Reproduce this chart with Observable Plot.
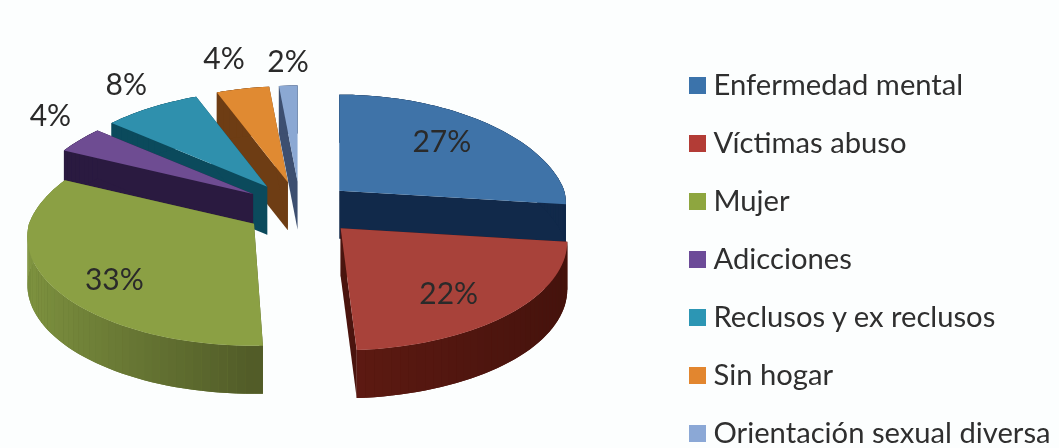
<!DOCTYPE html>
<html><head><meta charset="utf-8">
<script src="https://cdn.jsdelivr.net/npm/d3@7"></script>
<script src="https://cdn.jsdelivr.net/npm/@observablehq/plot@0.6"></script>
<style>
html,body{margin:0;padding:0;background:#fcfefe;overflow:hidden}
svg{display:block;filter:blur(0.5px)}
</style></head><body><div id="chart"></div>
<script>
// data
const categories = ["Enfermedad mental","Víctimas abuso","Mujer","Adicciones","Reclusos y ex reclusos","Sin hogar","Orientación sexual diversa"];
const values = [27,22,33,4,8,4,2];
const topColors = ["#3f73a8","#a8423a","#8ba044","#6e4c92","#2f90ad","#e08a32","#8ba8d3"];
const cutColors = ["#11294a","#4a140e","#515b28","#2a1a40","#0b4a5c","#6e3d14","#3d4f70"];
const rimNear = ["#11294a","#5e1a12","#515b28","#2a1a40","#0b4a5c","#6e3d14","#3d4f70"];
const rimFar = ["#11294a","#43120c","#7f9440","#2a1a40","#0b4a5c","#6e3d14","#3d4f70"];
const legendColors = ["#3b73ab","#b33c36","#8ea63f","#6c4b98","#2c96b4","#e2862f","#8ba8d6"];

// layout of the pseudo-3D pie
const W = 1059, H = 448;
const cx = 299, cy = 208, kx = 55, ky = 27;
const R = 225, Ry = 107.5, persp = 0.12, perspBackX = 0.18, depth = 48;
const labelReach = [[.68,.74],[.64,.77],[.70,.88],[1.17,1.44],[1.22,1.28],[1.34,1.32],[.79,1.24]];
const apexNudge = [-1.5,3.5,0,0,0,2,1.5];
const startNudge = [0,0,1.6,0,0,0,1.6];
const endNudge = [0,0,0,0,0,1.6,0];
const paintOrder = [6,5,4,3,0,2,1];
const rad = d => d * Math.PI / 180;

const slices = [];
let acc = 0;
values.forEach((v,i) => {
  const a0 = acc * 3.6 + startNudge[i], a1 = (acc + v) * 3.6 + endNudge[i], mid = (acc + v/2) * 3.6;
  acc += v;
  slices[i] = {i, a0, a1, mid, ax: cx + kx*Math.sin(rad(mid)) + apexNudge[i], ay: cy - ky*Math.cos(rad(mid))};
});
function project(s, rx, t, ry = rx) {
  const c = Math.cos(rad(t));
  const fx = c > 0 ? 1/(1 + perspBackX*c) : 1/(1 + persp*c);
  const fy = 1/(1 + persp*c);
  return [s.ax + R*rx*Math.sin(rad(t))*fx, s.ay - Ry*ry*c*fy];
}
const polys = [];
function addPoly(id, color, pts) {
  pts.forEach(p => polys.push({id, color, x:p[0], y:p[1]}));
}
paintOrder.forEach(i => {
  const s = slices[i];
  const apex = project(s,0,0);
  const down = p => [p[0], p[1]+depth];
  const arc = [];
  const n = Math.max(2, Math.ceil((s.a1-s.a0)/2));
  for (let k=0;k<=n;k++) arc.push(s.a0 + (s.a1-s.a0)*k/n);
  const rim = arc.map(t => project(s,1,t));
  addPoly(`c0-${i}`, cutColors[i], [apex, rim[0], down(rim[0]), down(apex)]);
  addPoly(`c1-${i}`, cutColors[i], [apex, rim[n], down(rim[n]), down(apex)]);
  const mix = d3.interpolateRgb(rimNear[i], rimFar[i]);
  // solid underlay keeps the seams between shaded rim pieces closed
  addPoly(`u-${i}`, mix(0.5), [...rim, ...rim.slice().reverse().map(down)]);
  for (let k=0;k<n;k++) {
    const u = Math.abs(Math.sin(rad((arc[k]+arc[k+1])/2)));
    addPoly(`r${k}-${i}`, mix(u), [rim[k], rim[k+1], down(rim[k+1]), down(rim[k])]);
  }
  addPoly(`t-${i}`, topColors[i], [apex, ...rim]);
});
const pctLabels = slices.map(s => {
  const [rx,ry] = labelReach[s.i];
  const [x,y] = project(s, rx, s.mid, ry);
  return {text: values[s.i]+"%", x, y};
});
const legend = categories.map((name,i) => ({name, color: legendColors[i], y: 85 + i*58}));

const plot = Plot.plot({
  width: W, height: H, margin: 0,
  x: {domain:[0,W], range:[0,W], axis:null},
  y: {domain:[0,H], range:[0,H], axis:null},
  color: {type:"identity"},
  style: {background:"#fcfefe"},
  marks: [
    Plot.line(polys, {x:"x", y:"y", z:"id", fill:"color", stroke:"none"}),
    Plot.text(pctLabels, {x:"x", y:"y", text:"text", fontFamily:"Lato", fontSize:30, fill:"#2a2a2a"}),
    Plot.dot(legend, {x:()=>697, y:"y", symbol:"square", r:9.6, fill:"color"}),
    Plot.text(legend, {x:()=>713, y:"y", text:"name", textAnchor:"start", fontFamily:"Lato", fontSize:29.2, fill:"#2f2f2f"})
  ]
});
document.getElementById("chart").append(plot);
</script></body></html>
